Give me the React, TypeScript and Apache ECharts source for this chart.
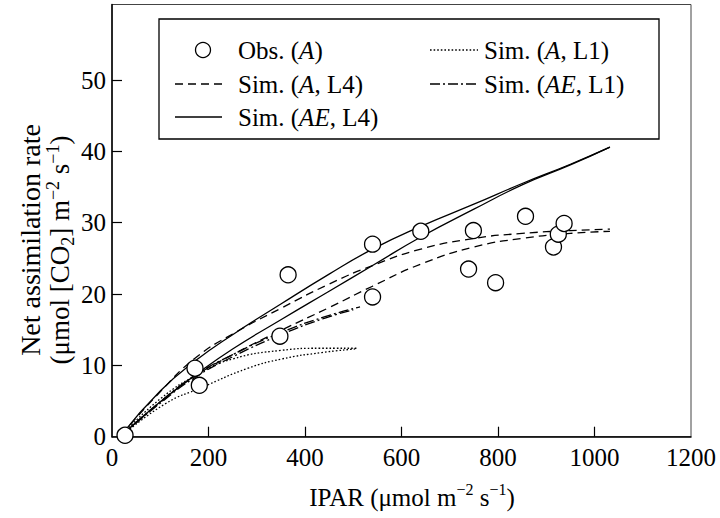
import React, { useEffect, useRef } from "react";
import * as echarts from "echarts";

const xTickValues = [0, 200, 400, 600, 800, 1000, 1200];
const yTickValues = [0, 10, 20, 30, 40, 50];

const obsA: [number, number][] = [
  [27, 0.2], [172, 9.6], [181, 7.2], [348, 14.1], [365, 22.7], [540, 27.0],
  [540, 19.6], [640, 28.8], [739, 23.5], [749, 28.9], [795, 21.6], [857, 30.9],
  [915, 26.6], [925, 28.4], [937, 29.9],
];

const simAEL4a: [number, number][] = [
  [20, 0.3], [100, 6.4], [172, 10.6], [250, 14.3], [350, 18.6], [450, 22.8], [540, 26.3],
  [640, 29.5], [750, 32.6], [850, 35.5], [950, 38.2], [1032, 40.6],
];
const simAEL4b: [number, number][] = [
  [20, 0.2], [100, 4.9], [172, 8.6], [250, 12.3], [350, 16.4], [450, 20.4], [540, 24.0],
  [640, 28.0], [750, 31.9], [850, 35.3], [950, 38.1], [1032, 40.6],
];
const simAL4a: [number, number][] = [
  [20, 0.3], [100, 6.3], [172, 11.0], [250, 14.4], [350, 18.0], [450, 21.4], [540, 24.0],
  [640, 26.3], [750, 27.8], [850, 28.5], [950, 28.9], [1032, 29.1],
];
const simAL4b: [number, number][] = [
  [20, 0.2], [100, 4.8], [172, 8.5], [250, 11.5], [350, 14.9], [450, 18.1], [540, 21.1],
  [640, 24.2], [750, 26.6], [850, 27.8], [950, 28.5], [1032, 28.8],
];
const simAEL1a: [number, number][] = [
  [20, 0.2], [100, 4.9], [172, 8.6], [250, 11.5], [350, 14.6], [440, 16.8], [514, 18.2],
];
const simAEL1b: [number, number][] = [
  [20, 0.2], [100, 4.7], [172, 8.3], [250, 11.2], [350, 14.3], [440, 16.6], [500, 17.8],
];
const simAL1a: [number, number][] = [
  [20, 0.2], [100, 5.3], [182, 8.9], [250, 10.9], [350, 12.1], [430, 12.4], [507, 12.4],
];
const simAL1b: [number, number][] = [
  [20, 0.1], [110, 4.6], [186, 6.9], [282, 9.6], [352, 10.9], [435, 11.8], [504, 12.3],
];

const FONT = "'Liberation Serif', 'Times New Roman', serif";

function lineSeries(name: string, data: [number, number][], type: any) {
  return {
    name,
    type: "line",
    data,
    showSymbol: false,
    smooth: 0.5,
    z: 2,
    lineStyle: { color: "#000", width: 1.3, type },
  };
}

const baseRich = (fs: number) => ({
  n: { fontSize: fs, fontFamily: FONT, color: "#000", lineHeight: fs + 8, verticalAlign: "middle" },
  i: { fontSize: fs, fontFamily: FONT, fontStyle: "italic", color: "#000", lineHeight: fs + 8, verticalAlign: "middle" },
  sup: { fontSize: Math.round(fs * 0.65), fontFamily: FONT, color: "#000", lineHeight: Math.round(fs * 0.65), verticalAlign: "top", padding: [1, 0, 0, 0] },
  sub: { fontSize: Math.round(fs * 0.65), fontFamily: FONT, color: "#000", lineHeight: Math.round(fs * 0.65), verticalAlign: "bottom", padding: [0, 0, 1, 0] },
});

export default function App() {
  const ref = useRef<HTMLDivElement>(null);
  useEffect(() => {
    if (!ref.current) return;
    const chart = echarts.init(ref.current, undefined, { renderer: "svg" });
    const legendFs = 25;
    const lx1 = 175, lx2 = 222, tx = 238;
    const rx1 = 430, rx2 = 478, rtx = 484;
    const r1 = 50, r2 = 84, r3 = 117;
    const legendText = (x: number, y: number, t: string) => ({
      type: "text",
      x,
      y,
      style: { text: t, rich: baseRich(legendFs), align: "left", verticalAlign: "middle" },
      z: 10,
    });
    const legendLine = (x1: number, x2: number, y: number, lineDash: any) => ({
      type: "line",
      shape: { x1, y1: y, x2, y2: y },
      style: { stroke: "#000", lineWidth: 1.3, lineDash },
      z: 10,
    });
    chart.setOption({
      animation: false,
      backgroundColor: "#fff",
      grid: {
        left: 112, right: 29, top: 4.5, bottom: 81.3,
        show: true, borderColor: "#444", borderWidth: 1, backgroundColor: "transparent",
      },
      xAxis: {
        type: "value",
        min: 0,
        max: 1200,
        interval: 200,
        axisLine: { lineStyle: { color: "#000", width: 1.5 } },
        axisTick: { inside: true, length: 10, lineStyle: { color: "#000", width: 1.2 }, customValues: [200, 400, 600, 800, 1000] },
        axisLabel: {
          color: "#000", fontFamily: FONT, fontSize: 25, margin: 8, customValues: xTickValues,
          formatter: (v: number) => String(v),
        },
        splitLine: { show: false },
      },
      yAxis: {
        type: "value",
        min: 0,
        max: 60.6,
        interval: 10,
        axisLine: { lineStyle: { color: "#000", width: 1.5 } },
        axisTick: { inside: true, length: 10, lineStyle: { color: "#000", width: 1.2 }, customValues: [10, 20, 30, 40, 50] },
        axisLabel: {
          color: "#000", fontFamily: FONT, fontSize: 25, margin: 6, customValues: yTickValues,
          formatter: (v: number) => String(v),
        },
        splitLine: { show: false },
      },
      series: [
        lineSeries("Sim. (AE, L4)", simAEL4a, "solid"),
        lineSeries("Sim. (AE, L4) b", simAEL4b, "solid"),
        lineSeries("Sim. (A, L4)", simAL4a, [8, 5]),
        lineSeries("Sim. (A, L4) b", simAL4b, [8, 5]),
        lineSeries("Sim. (AE, L1)", simAEL1a, [10, 3, 2, 3]),
        lineSeries("Sim. (AE, L1) b", simAEL1b, [10, 3, 2, 3]),
        lineSeries("Sim. (A, L1)", simAL1a, [1.6, 2]),
        lineSeries("Sim. (A, L1) b", simAL1b, [1.6, 2]),
        {
          name: "Obs. (A)",
          type: "scatter",
          data: obsA,
          symbol: "circle",
          symbolSize: 16,
          z: 5,
          itemStyle: { color: "#fff", borderColor: "#000", borderWidth: 1.3, opacity: 1 },
        },
      ],
      graphic: [
        {
          type: "rect",
          shape: { x: 159, y: 19, width: 500, height: 120 },
          style: { fill: "#fff", stroke: "#000", lineWidth: 1.3 },
          z: 9,
        },
        {
          type: "circle",
          shape: { cx: 203, cy: r1, r: 7.5 },
          style: { fill: "#fff", stroke: "#000", lineWidth: 1.3 },
          z: 10,
        },
        legendText(tx, r1, "{n|Obs. (}{i|A}{n|)}"),
        legendLine(lx1, lx2, r2, [8, 5]),
        legendText(tx, r2, "{n|Sim. (}{i|A}{n|, L4)}"),
        legendLine(lx1, lx2, r3, null),
        legendText(tx, r3, "{n|Sim. (}{i|AE}{n|, L4)}"),
        legendLine(rx1, rx2, r1, [1.6, 2]),
        legendText(rtx, r1, "{n|Sim. (}{i|A}{n|, L1)}"),
        legendLine(rx1, rx2, r2, [10, 3, 2, 3]),
        legendText(rtx, r2, "{n|Sim. (}{i|AE}{n|, L1)}"),
        {
          type: "text",
          x: 412,
          y: 497,
          style: {
            text: "{n|IPAR (\u03bcmol m}{sup|\u22122}{n| s}{sup|\u22121}{n|)}",
            rich: baseRich(25),
            align: "center",
            verticalAlign: "middle",
          },
        },
        {
          type: "text",
          x: 30,
          y: 240,
          rotation: Math.PI / 2,
          style: {
            text: "{n|Net assimilation rate}",
            rich: baseRich(28),
            align: "center",
            verticalAlign: "middle",
          },
        },
        {
          type: "text",
          x: 60,
          y: 250,
          rotation: Math.PI / 2,
          style: {
            text: "{n|(\u03bcmol [CO}{sub|2}{n|] m}{sup|\u22122}{n| s}{sup|\u22121}{n|)}",
            rich: baseRich(27),
            align: "center",
            verticalAlign: "middle",
          },
        },
      ],
    });
    return () => chart.dispose();
  }, []);
  return (
    <div
      ref={ref}
      style={{ position: "fixed", left: 0, top: 0, width: 720, height: 518, background: "#fff" }}
    />
  );
}
